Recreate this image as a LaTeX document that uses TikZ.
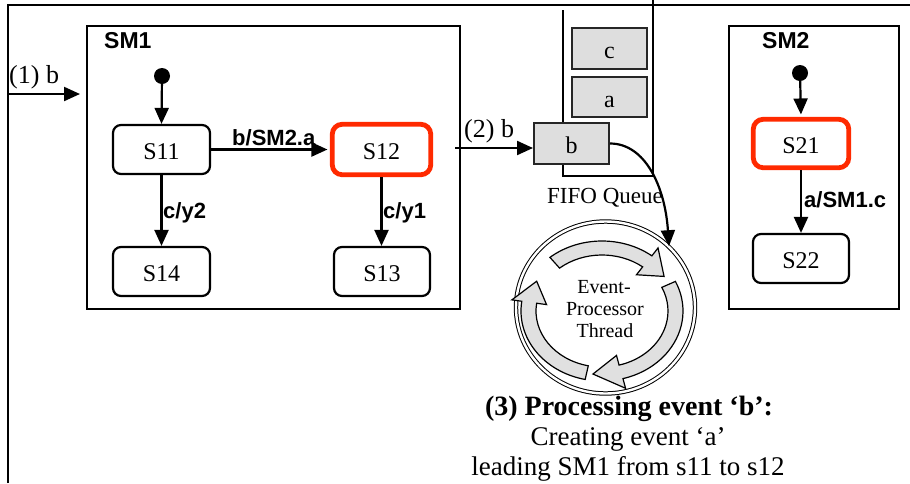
\documentclass[tikz,border=0pt]{standalone}
\usepackage{fontspec}
\setmainfont{Liberation Serif}
\setsansfont{Liberation Sans}
\usetikzlibrary{arrows.meta,shapes.geometric}
\definecolor{stred}{HTML}{FF2A00}
\definecolor{qgray}{HTML}{DEDEDE}
\definecolor{rgray}{HTML}{E0E0E0}
\newcommand\fs[1]{\fontsize{#1}{#1}\selectfont}
\newcommand\cycarrow[3]{%
 \draw[ringarrow] ({602+81*cos(#1)},{311-70*sin(#1)}) arc[start angle={-(#1)}, end angle={-(#2)}, x radius=81, y radius=70]
 -- ({602+91*cos(#2)},{311-80*sin(#2)})
 -- ({602+74*cos(#3)},{311-63.5*sin(#3)})
 -- ({602+56*cos(#2)},{311-46*sin(#2)})
 -- ({602+66*cos(#2)},{311-56*sin(#2)})
 arc[start angle={-(#2)}, end angle={-(#1)}, x radius=66, y radius=56] -- cycle;}
\tikzset{
 frame/.style={line width=1.3pt},
 smbox/.style={draw, line width=2.2pt, rectangle, inner sep=0pt},
 state/.style={draw, line width=2.2pt, rounded corners=8pt, rectangle, minimum width=97pt, minimum height=49pt, inner sep=0pt, text height=20pt, text depth=0pt, font=\fs{24}},
 active/.style={state, draw=stred, line width=4.8pt, rounded corners=10pt},
 initdot/.style={circle, fill=black, minimum size=16pt, inner sep=0pt},
 tr/.style={line width=2.2pt, -{Triangle[length=16pt,width=14pt]}},
 trlabel/.style={font=\fs{22}\sffamily\bfseries, inner sep=0pt, anchor=base west},
 txt/.style={font=\fs{26}, inner sep=0pt, anchor=base west},
 ctxt/.style={inner sep=0pt, anchor=base},
 qbox/.style={draw=black!85, fill=qgray, line width=2pt, minimum width=75pt, minimum height=41pt, inner sep=0pt, text height=20pt, text depth=0pt, font=\fs{24}},
 qline/.style={line width=1.6pt},
 ring/.style={ellipse, draw, line width=1pt, double, double distance=2.4pt, minimum width=179pt, minimum height=172pt, inner sep=0pt},
 ringarrow/.style={draw, line width=1.2pt, fill=rgray, line join=miter},
}
\begin{document}
\begin{tikzpicture}[x=1pt,y=-1pt]
\useasboundingbox (0,0) rectangle (910,483);
% outer frame
\coordinate (fbl) at (8,483);
\coordinate (ftl) at (8,5);
\coordinate (ftr) at (910,5);
\draw[frame] (fbl) -- (ftl) -- (ftr);

% SM1
\node[smbox, minimum width=373pt, minimum height=283pt] (sm1) at (273.5,167.5) {};
\node[trlabel, font=\fs{23}\sffamily\bfseries] (sm1l) at (104,48) {SM1};
\node[initdot] (d1) at (162,76) {};
\node[state] (s11) at (161.5,149.5) {S11};
\node[active, minimum width=98.5pt, minimum height=50.5pt] (s12) at (381.5,149.5) {S12};
\node[state] (s14) at (161.5,271.5) {S14};
\node[state, minimum width=96pt] (s13) at (382,271.5) {S13};
\draw[tr] (d1) -- (s11.north);
\draw[tr, shorten >=2.4pt] (s11.east) -- (s11.east -| s12.west);
\draw[tr] (s11.south) -- (s14.north);
\draw[tr] (s12.south) -- (s12.south |- s13.north);
\node[trlabel] (l12) at (232,145) {b/SM2.a};
\node[trlabel] (l14) at (163,218) {c/y2};
\node[trlabel] (l13) at (383,218) {c/y1};

% input (1) b
\coordinate (in1) at (8,94);
\coordinate (in1e) at (80,94);
\draw[tr] (in1) -- (in1e);
\node[txt] (lbl1) at (9,83) {(1) b};

% SM2
\node[smbox, minimum width=170pt, minimum height=283pt] (sm2) at (814,167.5) {};
\node[trlabel, font=\fs{23}\sffamily\bfseries] (sm2l) at (762,48) {SM2};
\node[initdot] (d2) at (800,73) {};
\node[active, minimum width=95.5pt, minimum height=48.5pt] (s21) at (801,143.5) {S21};
\node[state, minimum width=96pt] (s22) at (801,258.5) {S22};
\draw[tr, shorten >=2.4pt] (d2) -- (s21.north);
\draw[tr] (s21.south) -- (s22.north);
\node[trlabel] (l22) at (804,207) {a/SM1.c};

% FIFO queue
\draw[qline] (563,10) -- (563,176) -- (653,176) -- (653,0);
\node[qbox] (qc) at (609.5,48.5) {c};
\node[qbox, minimum height=40pt] (qa) at (609.5,97) {a};
\node[qbox] (qb) at (571.5,143.5) {b};
\node[txt, font=\fs{23}] (fifo) at (547,203) {FIFO Queue};
\coordinate (in2) at (455,148);
\draw[tr] (in2) -- (in2 -| qb.west);
\node[txt] (lbl2) at (464,137) {(2) b};

% event processor
\node[ring] (ring) at (605.5,307.5) {};
\cycarrow{130}{52}{33}
\cycarrow{25}{-75}{-97}
\cycarrow{-102}{-188}{-208}
\draw[tr] (qb.east) .. controls +(35,0) and +(-4,-60) .. (ring.44);
\node[ctxt, font=\fs{20}] (ev1) at (604,293) {Event-};
\node[ctxt, font=\fs{20}] (ev2) at (605,315) {Processor};
\node[ctxt, font=\fs{20}] (ev3) at (605,337) {Thread};

% caption
\node[ctxt, font=\fs{28}\bfseries] (t3a) at (629,415) {(3) Processing event ‘b’:};
\node[ctxt, font=\fs{27}] (t3b) at (628,445) {Creating event ‘a’};
\node[ctxt, font=\fs{27}] (t3c) at (628,475) {leading SM1 from s11 to s12};
\end{tikzpicture}
\end{document}
